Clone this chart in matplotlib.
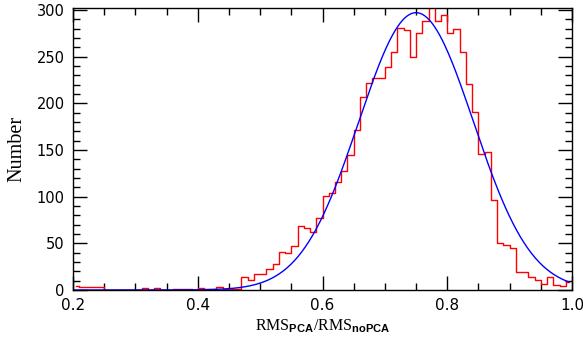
import numpy as np
import matplotlib
matplotlib.use('Agg')
import matplotlib.pyplot as plt
from matplotlib.ticker import MultipleLocator

#===数据：直方图（每个 bin 宽 0.01，从 0.20 到 1.00）
bin_lo = 0.20
bin_width = 0.01
counts = [4, 3, 3, 3, 3, 0, 0, 0, 0, 0,
          0, 2, 0, 2, 0, 0, 1, 1, 1, 0,
          2, 1, 1, 3, 1, 1, 1, 14, 11, 17,
          17, 23, 28, 41, 40, 47, 69, 66, 62, 77,
          101, 104, 116, 127, 145, 171, 207, 222, 227, 227,
          239, 255, 281, 278, 250, 275, 288, 310, 288, 294,
          275, 279, 255, 221, 191, 146, 148, 96, 50, 48,
          45, 19, 19, 14, 11, 6, 14, 5, 4, 9]

#===高斯拟合参数
gauss_amp = 297.0
gauss_mu = 0.750
gauss_sigma = 0.092
gauss_x0, gauss_x1 = 0.20, 0.995

centers = bin_lo + bin_width * (np.arange(len(counts)) + 0.5)
xg = np.linspace(gauss_x0, gauss_x1, 400)
yg = gauss_amp * np.exp(-(xg - gauss_mu) ** 2 / (2 * gauss_sigma ** 2))

plt.rcParams['mathtext.fontset'] = 'custom'
plt.rcParams['mathtext.rm'] = 'Liberation Serif'
plt.rcParams['mathtext.bf'] = 'Liberation Sans:bold'

fig = plt.figure(figsize=(5.83, 3.48), dpi=100)
ax = fig.add_axes([73 / 583, 1 - 290 / 348, (572 - 73) / 583, (290 - 8) / 348])

# ===画图
ax.step(centers, counts, where='mid', color='#ff0000', lw=1.0)
ax.plot(xg, yg, color='#0000ff', lw=1.0)

ax.set_xlim(0.2, 1.0)
ax.set_ylim(0, 302)
ax.xaxis.set_major_locator(MultipleLocator(0.2))
ax.xaxis.set_minor_locator(MultipleLocator(0.05))
ax.yaxis.set_major_locator(MultipleLocator(50))
ax.yaxis.set_minor_locator(MultipleLocator(10))
ax.xaxis.set_major_formatter(matplotlib.ticker.FormatStrFormatter('%.1f'))
ax.tick_params(which='both', direction='in', top=True, right=True, width=1.0)
ax.tick_params(axis='x', labelsize=11)
ax.tick_params(axis='y', labelsize=10.5)
ax.tick_params(which='major', length=10, pad=6)
ax.tick_params(which='minor', length=5)
for s in ax.spines.values():
    s.set_linewidth(1.0)

ax.set_xlabel(r'RMS$_{\mathbf{PCA}}$/RMS$_{\mathbf{noPCA}}$',
              family='Liberation Serif', fontsize=11.5, labelpad=3)
ax.set_ylabel('Number', family='Liberation Serif', fontsize=14.5, labelpad=7)

fig.savefig('out.png', dpi=100)
